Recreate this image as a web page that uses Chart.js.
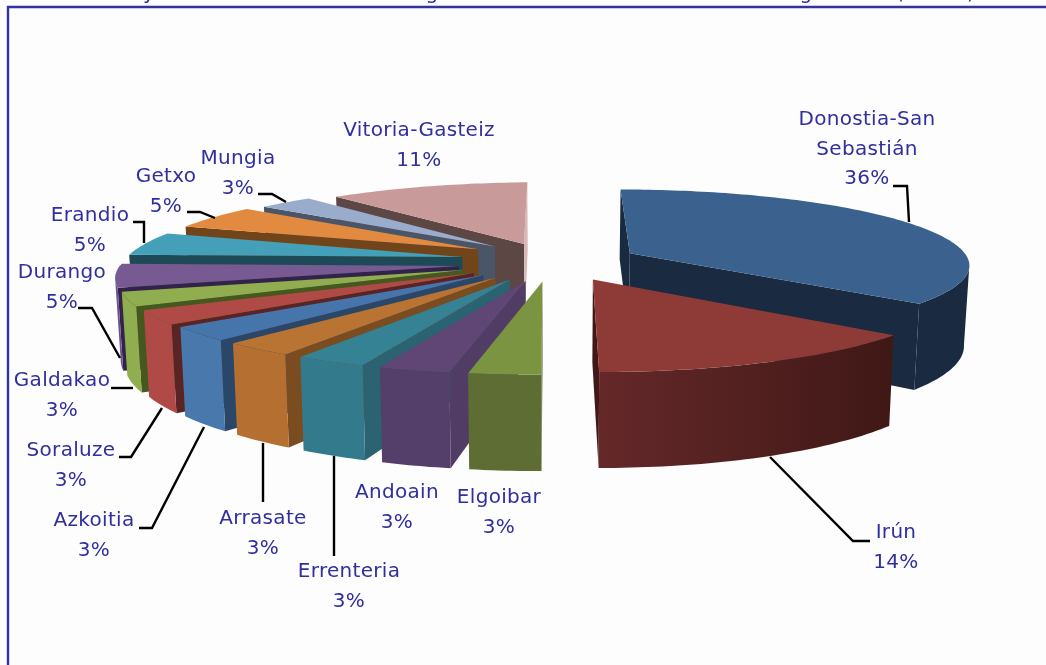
<!DOCTYPE html>
<html lang="es">
	<head>
		<meta charset="utf-8" />
		<title>Municipios</title>
		<script src="https://cdn.jsdelivr.net/npm/chart.js@4"></script>
		<style>
			html, body { margin: 0; padding: 0; background: #fdfdfd; overflow: hidden; }
			canvas { display: block; }
		</style>
	</head>
	<body>
		<canvas id="pie" width="1046" height="665"></canvas>
		<script>
			const towns = ["Donostia-San Sebastián", "Irún", "Elgoibar", "Andoain", "Errenteria", "Arrasate", "Azkoitia", "Soraluze", "Galdakao", "Durango", "Erandio", "Getxo", "Mungia", "Vitoria-Gasteiz"];
			const shares = [36, 14, 3, 3, 3, 3, 3, 3, 3, 5, 5, 5, 3, 11];

			// colours of the faces of every slice
			const topColors = ["#3b618f", "#8e3a37", "#7a9442", "#5f4675", "#358295", "#b97333", "#4675ab", "#b04a47", "#90ad50", "#785a92", "#44a0b8", "#e28a40", "#9aaccb", "#c89b9a"];
			const rimLeftColors = ["#1a2a40", "#652829", "#5d6d33", "#533f69", "#337a8c", "#b56f30", "#4878ac", "#b04a47", "#90ad50", "#6b5290", "#1e4a58", "#71441a", "#4a5668", "#5c4744"];
			const rimRightColors = ["#1a2a40", "#3f1816", "#5d6d33", "#533f69", "#337a8c", "#b56f30", "#4878ac", "#b04a47", "#90ad50", "#6b5290", "#1e4a58", "#71441a", "#4a5668", "#5c4744"];
			const startWallColors = ["#1a2a40", "#401815", "#5d6d33", "#503c65", "#2b6372", "#7a4c20", "#2a4668", "#5a2424", "#45591f", "#33234a", "#1e4a58", "#71441a", "#4a5668", "#5c4744"];
			const endWallColors = ["#1a2a40", "#401815", "#5d6d33", "#503c65", "#2b6372", "#7a4c20", "#2a4668", "#5a2424", "#45591f", "#33234a", "#1e4a58", "#71441a", "#4a5668", "#d8b8b6"];

			// small corrections per slice, px
			const sliceNudgeX = [0, 3, 0, 0, 0, 0, 0, 0, -2, -4, -3, 2, 5, 2];
			const sliceNudgeY = [0, 0, 0, 0, 0, 0, 0, 1, 1, 2, -1, -3, -2, 0];

			// label text per town: lines and where they sit
			const labelLines = [["Donostia-San", "Sebastián"], ["Irún"], ["Elgoibar"], ["Andoain"], ["Errenteria"], ["Arrasate"], ["Azkoitia"], ["Soraluze"], ["Galdakao"], ["Durango"], ["Erandio"], ["Getxo"], ["Mungia"], ["Vitoria-Gasteiz"]];
			const labelX = [867, 896, 499, 397, 349, 263, 94, 71, 62, 62, 90, 166, 238, 419];
			const labelY = [120, 533, 498, 493, 572, 519, 521, 451, 381, 273, 216, 177, 159, 131];
			const lineGap = 29.5;

			const leaders = [
				[[893, 186], [907, 186], [909, 222]],
				[[770, 457], [853, 541], [870, 541]],
				null,
				null,
				[[334, 556], [334, 456]],
				[[263, 502], [263, 443]],
				[[139, 528], [152, 528], [204, 427]],
				[[119, 457], [131, 457], [162, 408]],
				[[111, 388], [133, 388]],
				[[78, 308], [92, 308], [120, 358]],
				[[133, 222], [144, 222], [144, 243]],
				[[187, 212], [200, 212], [215, 218]],
				[[258, 194], [272, 194], [286, 202]],
				null,
			];

			// bits of the cut off title at the top edge
			const titleBits = ["y", "g", "g", "(", ")"];
			const titleBitX = [149, 432, 806, 900, 971];

			// camera used for the tilted pie
			const view = { cx: 551, horizon: -290.5, base: 552, radius: 340, k: 0.135, depth: 80, squeeze: 0.013, explode: 0.26, leftNear: 0.75, leftTilt: 2.5 };

			function project(x, y, z) {
				const w = 1 / (1 - view.k * y);
				const wx = x < 0 && w > 1 ? 1 + (w - 1) * view.leftNear : w;
				const sx = view.cx + view.radius * x * wx * (1 - view.squeeze * z);
				const tilt = x < 0 ? -x * view.leftTilt : 0;
				const sy = view.horizon + view.base * w + view.depth * z * w + tilt;
				return { x: sx, y: sy };
			}

			function fillPoly(ctx, pts, color) {
				ctx.beginPath();
				pts.forEach((p, i) => (i ? ctx.lineTo(p.x, p.y) : ctx.moveTo(p.x, p.y)));
				ctx.closePath();
				ctx.fillStyle = color;
				ctx.fill();
			}

			function drawSlice(ctx, arc, i) {
				const start = arc.startAngle;
				const end = arc.endAngle;
				const mid = (start + end) / 2;
				const ox = Math.cos(mid) * view.explode;
				const oy = Math.sin(mid) * view.explode;
				const nudge = (p) => ({ x: p.x + sliceNudgeX[i], y: p.y + sliceNudgeY[i] });
				const rimAt = (a, z) => nudge(project(ox + Math.cos(a), oy + Math.sin(a), z));
				const tip = nudge(project(ox, oy, 0));
				const tipLow = nudge(project(ox, oy, 1));

				const steps = Math.ceil((end - start) / 0.02);
				const angles = [];
				for (let s = 0; s <= steps; s++) angles.push(start + ((end - start) * s) / steps);

				// radial walls, only the ones that face the viewer
				const m = rimAt(mid, 0);
				[start, end].forEach((a, n) => {
					const q = rimAt(a, 0);
					const dx = q.x - tip.x;
					if (Math.abs(dx) < 0.01) return;
					const lineY = tip.y + ((m.x - tip.x) * (q.y - tip.y)) / dx;
					if (m.y < lineY) {
						fillPoly(ctx, [tip, q, rimAt(a, 1), tipLow], n ? endWallColors[i] : startWallColors[i]);
					}
				});

				// curved rim, front part only
				const front = angles.filter((a, s) => (s < steps && rimAt(angles[s + 1], 0).x < rimAt(a, 0).x) || (s > 0 && rimAt(a, 0).x < rimAt(angles[s - 1], 0).x));
				if (front.length > 1) {
					const upper = front.map((a) => rimAt(a, 0));
					const lower = front.map((a) => rimAt(a, 1)).reverse();
					const grad = ctx.createLinearGradient(upper[upper.length - 1].x, 0, upper[0].x, 0);
					grad.addColorStop(0, rimLeftColors[i]);
					grad.addColorStop(1, rimRightColors[i]);
					fillPoly(ctx, upper.concat(lower), grad);
				}

				// top face
				fillPoly(ctx, [tip].concat(angles.map((a) => rimAt(a, 0))), arc.options.backgroundColor);
			}

			const tiltedPie = {
				id: "tiltedPie",
				beforeDatasetsDraw(chart) {
					const ctx = chart.ctx;
					const arcs = chart.getDatasetMeta(0).data;
					const order = arcs.map((a, i) => i);
					order.sort((p, q) => Math.sin((arcs[p].startAngle + arcs[p].endAngle) / 2) - Math.sin((arcs[q].startAngle + arcs[q].endAngle) / 2));
					ctx.save();
					order.forEach((i) => drawSlice(ctx, arcs[i], i));
					ctx.restore();
					return false;
				},
				afterDraw(chart) {
					const ctx = chart.ctx;
					ctx.save();
					// frame
					ctx.strokeStyle = "#3333a0";
					ctx.lineWidth = 2.4;
					ctx.beginPath();
					ctx.moveTo(8, 665);
					ctx.lineTo(8, 7);
					ctx.lineTo(1046, 7);
					ctx.stroke();

					ctx.fillStyle = "#2f2f9e";
					ctx.textAlign = "center";
					ctx.textBaseline = "middle";
					ctx.font = '20px "DejaVu Sans"';
					ctx.letterSpacing = "0.3px";
					titleBits.forEach((t, i) => ctx.fillText(t, titleBitX[i], -6));

					// leader lines
					ctx.strokeStyle = "#000000";
					ctx.lineWidth = 2.4;
					leaders.forEach((pts) => {
						if (!pts) return;
						ctx.beginPath();
						pts.forEach((p, i) => (i ? ctx.lineTo(p[0], p[1]) : ctx.moveTo(p[0], p[1])));
						ctx.stroke();
					});

					// labels
					towns.forEach((t, i) => {
						const lines = labelLines[i].concat(shares[i] + "%");
						lines.forEach((line, n) => ctx.fillText(line, labelX[i], labelY[i] + n * lineGap));
					});
					ctx.restore();
				},
			};

			new Chart(document.getElementById("pie"), {
				type: "pie",
				data: {
					labels: towns,
					datasets: [{ data: shares, backgroundColor: topColors, borderWidth: 0 }],
				},
				options: {
					responsive: false,
					animation: false,
					plugins: { legend: { display: false }, tooltip: { enabled: false } },
				},
				plugins: [tiltedPie],
			});
		</script>
	</body>
</html>
